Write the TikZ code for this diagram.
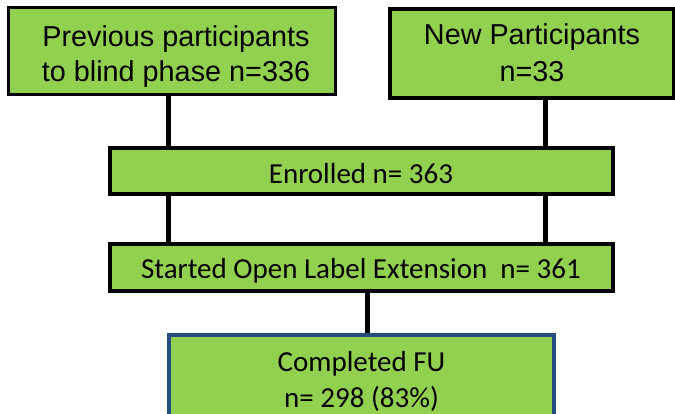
\documentclass[tikz,border=0pt]{standalone}
\usepackage{fontspec}
\setmainfont{Liberation Sans}
\newfontfamily\calfont{Carlito}
\usetikzlibrary{backgrounds}
\definecolor{boxgreen}{RGB}{146,208,80}
\definecolor{boxblue}{RGB}{38,77,128}
\tikzset{
  greenbox/.style={draw=black, fill=boxgreen, line width=3.5pt, inner sep=0pt},
  bluebox/.style={draw=boxblue, fill=boxgreen, line width=3.5pt, inner sep=0pt},
  arialtext/.style={anchor=base, inner sep=0pt, font=\fontsize{28.8}{35}\selectfont},
  caltext/.style={anchor=base, inner sep=0pt, font=\calfont\fontsize{29}{36}\selectfont},
  link/.style={draw=black, line width=5pt}
}
\begin{document}
\begin{tikzpicture}[x=1pt, y=-1pt]
\useasboundingbox (0,0) rectangle (675,414);
% boxes
\node[greenbox, minimum width=327pt, minimum height=87pt] (prev) at (172,51) {};
\node[greenbox, minimum width=283.5pt, minimum height=89pt] (new) at (531.75,53.5) {};
\node[greenbox, minimum width=503pt, minimum height=46pt] (enr) at (361.5,171) {};
\node[greenbox, minimum width=503pt, minimum height=47pt] (ole) at (361.5,267.5) {};
\node[bluebox, minimum width=385pt, minimum height=110pt] (fu) at (361.5,390) {};
% texts
\node[arialtext] (prevA) at (176,47) {Previous participants};
\node[arialtext] (prevB) at (176,82) {to blind phase n=336};
\node[arialtext] (newA) at (532,45) {New Participants};
\node[arialtext] (newB) at (532,82) {n=33};
\node[caltext] (enrT) at (361,184) {Enrolled n= 363};
\node[caltext] (oleT) at (361,279) {Started Open Label Extension\ \ n= 361};
\node[caltext] (fuA) at (361.5,371) {Completed FU};
\node[caltext] (fuB) at (361.5,407) {n= 298 (83\%)};
% connectors
\coordinate (cL) at (168.5,0);
\coordinate (cR) at (545,0);
\coordinate (cM) at (367,0);
\begin{scope}[on background layer]
\draw[link] (prev.south -| cL) -- (enr.north -| cL);
\draw[link] (new.south -| cR) -- (enr.north -| cR);
\draw[link] (enr.south -| cL) -- (ole.north -| cL);
\draw[link] (enr.south -| cR) -- (ole.north -| cR);
\draw[link] (ole.south -| cM) -- (fu.north -| cM);
\end{scope}
\end{tikzpicture}
\end{document}
